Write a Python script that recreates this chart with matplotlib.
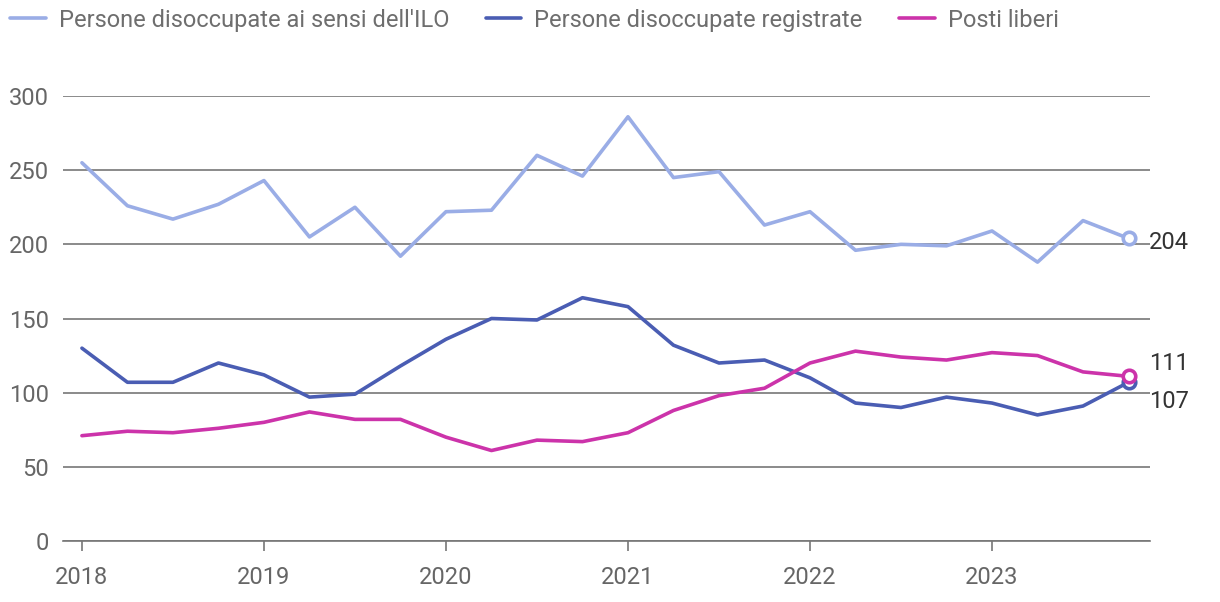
import matplotlib

matplotlib.use("Agg")
import matplotlib.pyplot as plt  # noqa: E402
import numpy as np  # noqa: E402

plt.rcParams["font.family"] = ["Roboto", "DejaVu Sans"]

# ---------- data -----------------------------------------------------------

years = [2018, 2019, 2020, 2021, 2022, 2023]
quarters = np.arange(2018, 2024, 0.25)

ilo = [255, 226, 217, 227, 243, 205, 225, 192, 222, 223, 260, 246,
       286, 245, 249, 213, 222, 196, 200, 199, 209, 188, 216, 204]
registrate = [130, 107, 107, 120, 112, 97, 99, 118, 136, 150, 149, 164,
              158, 132, 120, 122, 110, 93, 90, 97, 93, 85, 91, 107]
posti = [71, 74, 73, 76, 80, 87, 82, 82, 70, 61, 68, 67,
         73, 88, 98, 103, 120, 128, 124, 122, 127, 125, 114, 111]

labels = ["Persone disoccupate ai sensi dell'ILO",
          "Persone disoccupate registrate",
          "Posti liberi"]
colors = ["#9aade6", "#4a5db3", "#cc33aa"]
end_offsets = [-3, -14, 9]  # points; keeps 111 / 107 apart

# ---------- plot -----------------------------------------------------------

fig = plt.figure(figsize=(12.2, 6.02), dpi=100)
ax = fig.add_axes([63 / 1220, 61 / 602, (1150 - 63) / 1220, 445 / 602])

series = [ilo, registrate, posti]
handles = []
for vals, col, lab in zip(series, colors, labels):
    (h,) = ax.plot(quarters, vals, color=col, linewidth=2.6, label=lab,
                   solid_capstyle="round", zorder=3)
    handles.append(h)
    ax.plot(quarters[-1], vals[-1], marker="o", markersize=9,
            markerfacecolor="white", markeredgecolor=col,
            markeredgewidth=2.6, zorder=4)

for vals, dy in zip(series, end_offsets):
    ax.annotate(f"{vals[-1]}", xy=(quarters[-1], vals[-1]),
                xytext=(15, dy), textcoords="offset points",
                va="center", ha="left", fontsize=17, color="#333333")

ax.set_xlim(2018 - 0.104, 2023.868)
ax.set_ylim(0, 300)
ax.set_yticks(range(0, 301, 50))
ax.set_xticks(years)
ax.grid(axis="y", color="#777777", linewidth=1.2)
ax.set_axisbelow(True)
for side in ["top", "right", "left"]:
    ax.spines[side].set_visible(False)
ax.spines["bottom"].set_color("#777777")
ax.spines["bottom"].set_linewidth(1.2)
ax.tick_params(axis="y", length=0, pad=10, labelsize=17, labelcolor="#666666")
ax.tick_params(axis="x", length=7, width=1.2, color="#777777", pad=11,
               labelsize=17, labelcolor="#666666")

fig.legend(handles=handles, loc="upper left", bbox_to_anchor=(-0.005, 1.013),
           ncol=3, frameon=False, fontsize=17, labelcolor="#6e6e6e",
           handlelength=1.5, columnspacing=1.55, handletextpad=0.55,
           borderaxespad=0.3)

fig.savefig("out.png", dpi=100)
plt.close(fig)
